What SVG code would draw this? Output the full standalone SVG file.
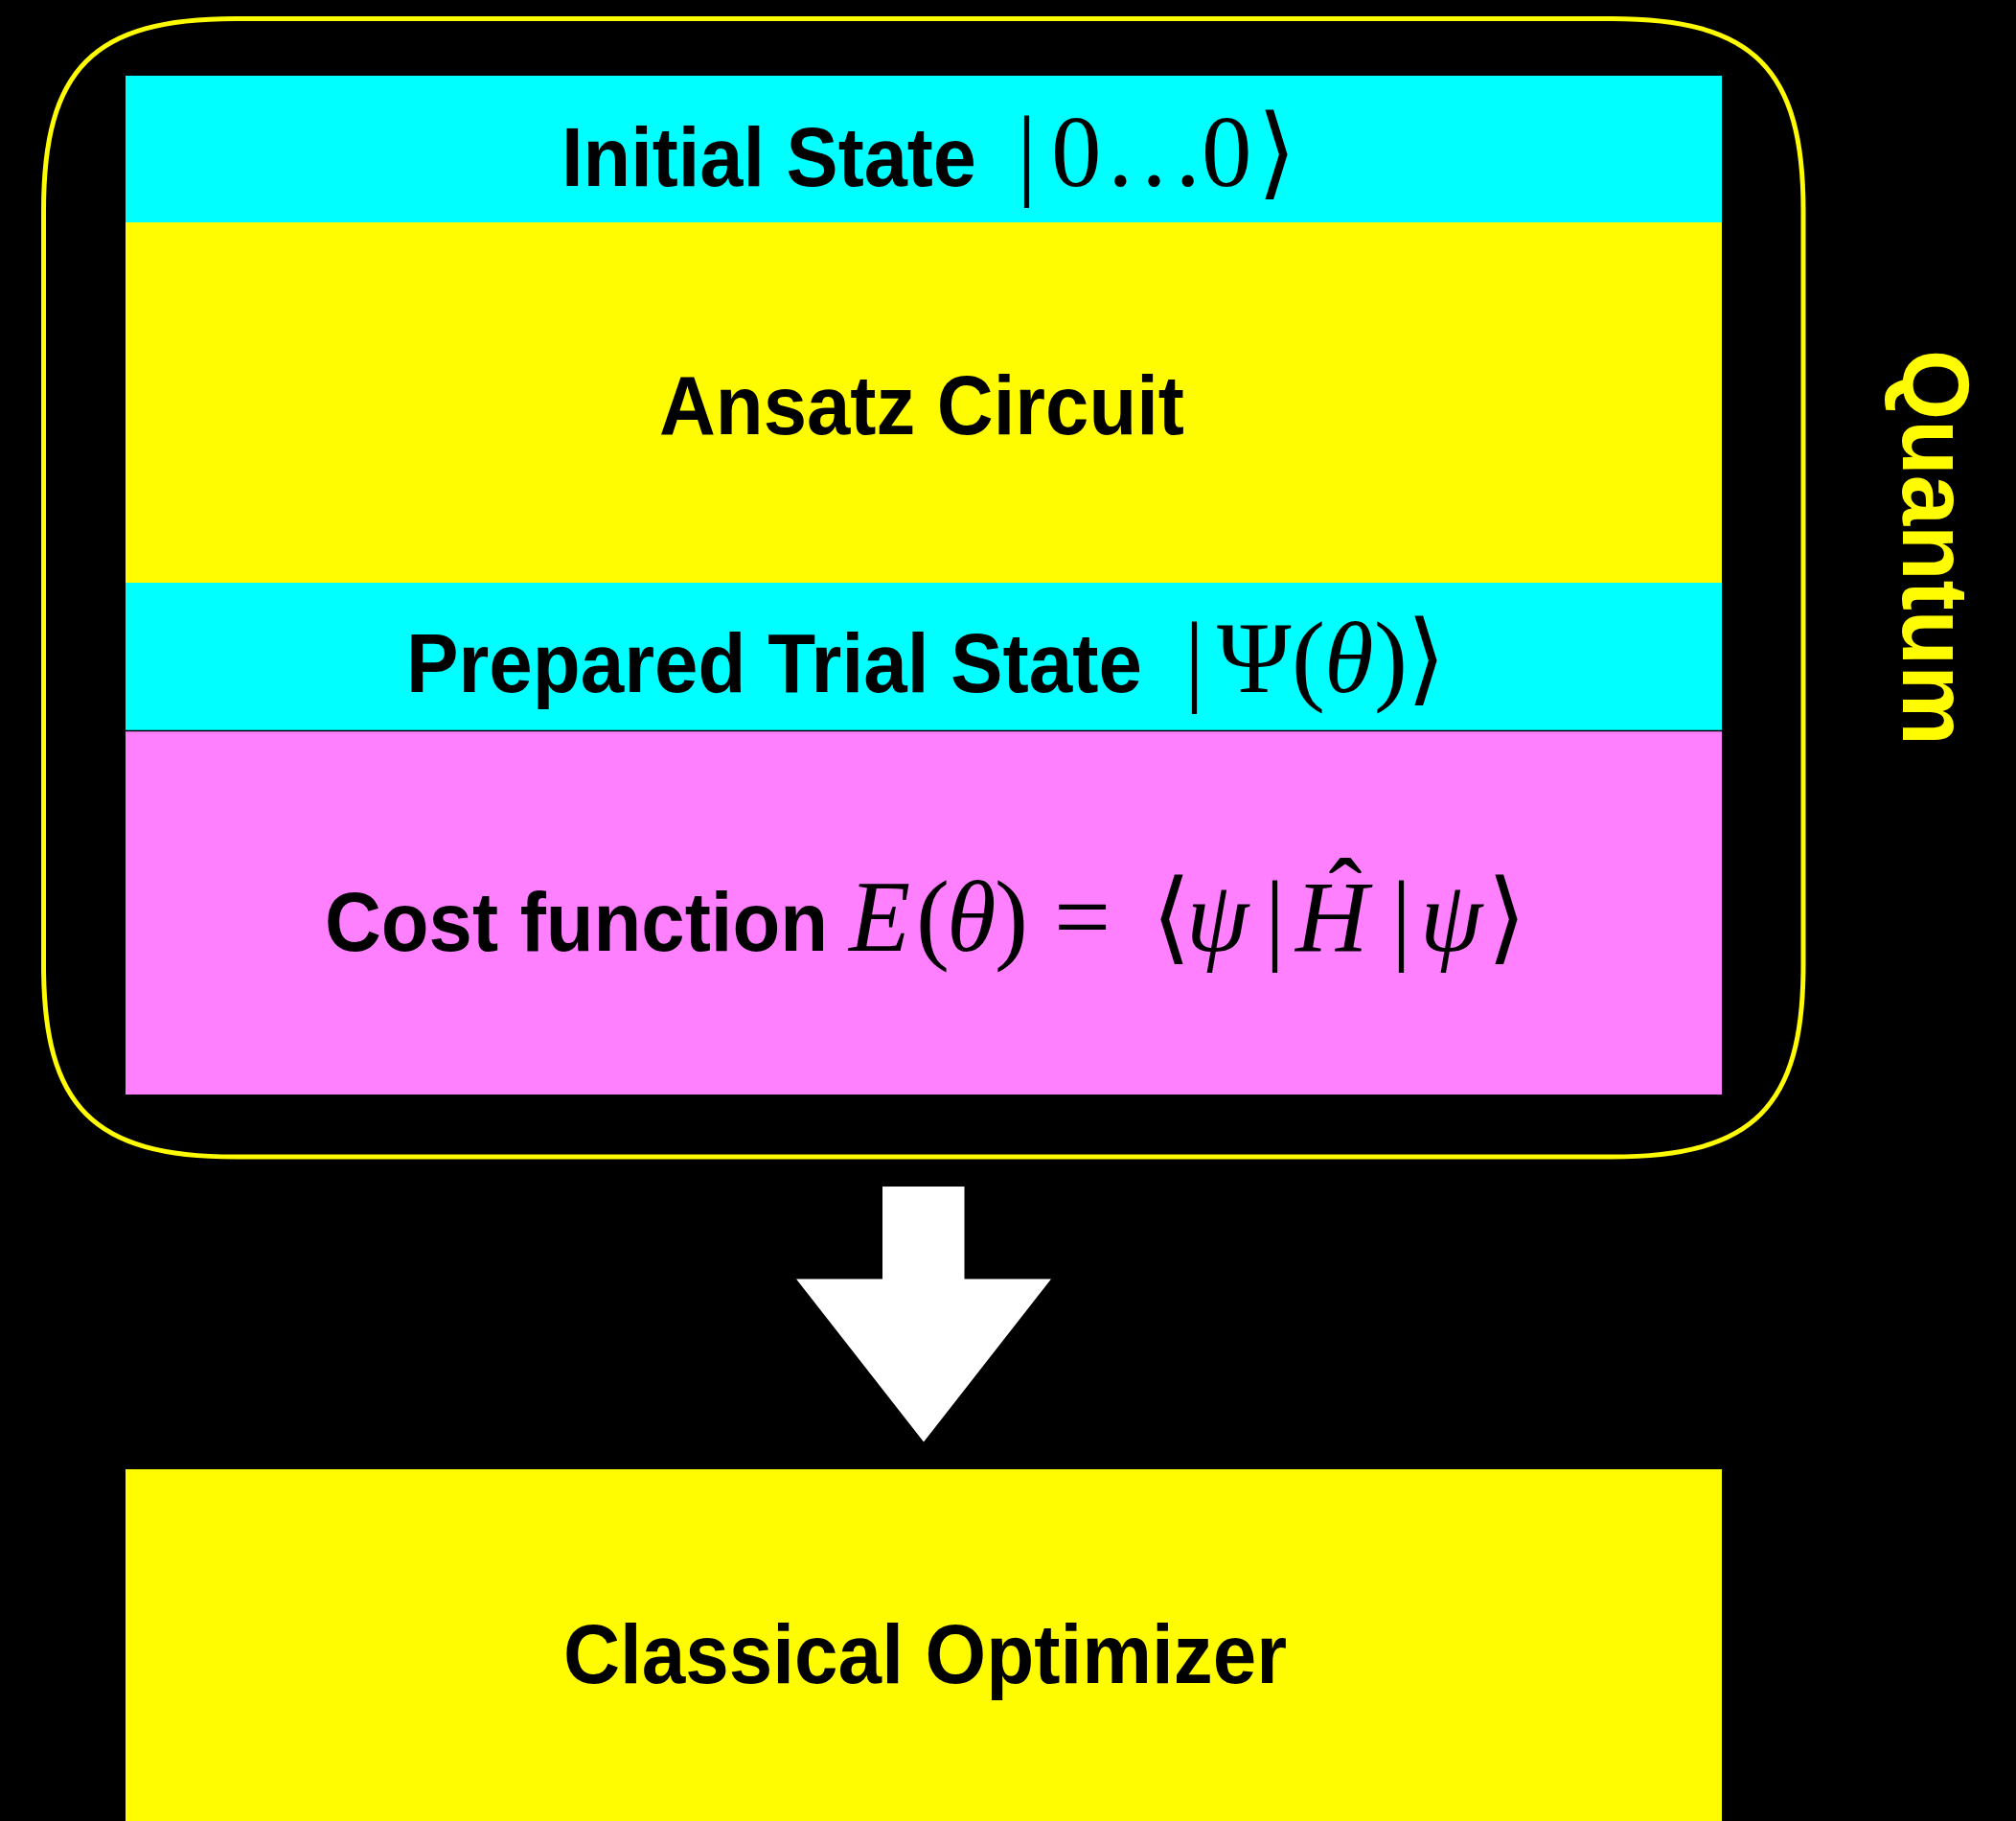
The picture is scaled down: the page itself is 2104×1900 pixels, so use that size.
<svg xmlns="http://www.w3.org/2000/svg" width="2104" height="1900" viewBox="0 0 2104 1900">
  <style>
    .sans { font-family: "Liberation Sans", Arial, sans-serif; font-weight: bold; font-size: 87px; fill: #000; }
    .math { font-family: "Liberation Serif", "DejaVu Serif", serif; font-weight: normal; font-size: 105px; }
    .it { font-style: italic; }
    .cyan { fill: #00FFFF; }
    .yellow { fill: #FFFB00; }
    .magenta { fill: #FF80FF; }
    .frame { fill: none; stroke: #FFFB00; stroke-width: 5; }
    .label { font-family: "Liberation Sans", Arial, sans-serif; font-weight: bold; font-size: 98px; fill: #FFFB00; }
  </style>

  <!-- background -->
  <rect x="0" y="0" width="2104" height="1900" fill="#000"/>

  <!-- quantum section frame -->
  <g id="quantum-frame">
    <path class="frame" d="M 245.5 19.5 H 1682 C 1830 19.5 1882 71.5 1882 219.5 V 1007 C 1882 1155 1830 1207 1682 1207 H 245.5 C 97.5 1207 45.5 1155 45.5 1007 V 219.5 C 45.5 71.5 97.5 19.5 245.5 19.5 Z"/>
    <text class="label" transform="translate(1986 365) rotate(90)" x="0" y="0" textLength="413" lengthAdjust="spacingAndGlyphs">Quantum</text>
  </g>

  <!-- initial state -->
  <g id="initial-state">
    <rect class="cyan" x="131" y="79" width="1666" height="153"/>
    <text class="sans" y="194"><tspan x="586" textLength="433" lengthAdjust="spacingAndGlyphs">Initial State</tspan><tspan class="math" x="1061">|</tspan><tspan class="math" x="1097">0</tspan><tspan class="math" x="1152">…</tspan><tspan class="math" x="1254">0</tspan><tspan class="math" x="1312">⟩</tspan></text>
  </g>

  <!-- ansatz circuit -->
  <g id="ansatz">
    <rect class="yellow" x="131" y="232" width="1666" height="376"/>
    <text class="sans" x="688" y="453" textLength="548" lengthAdjust="spacingAndGlyphs">Ansatz Circuit</text>
  </g>

  <!-- prepared trial state -->
  <g id="trial-state">
    <rect class="cyan" x="131" y="608" width="1666" height="154"/>
    <text class="sans" y="722"><tspan x="424" textLength="768" lengthAdjust="spacingAndGlyphs">Prepared Trial State</tspan><tspan class="math" x="1236">|</tspan><tspan class="math" x="1270">Ψ</tspan><tspan class="math" x="1348">(</tspan><tspan class="math it" x="1382">θ</tspan><tspan class="math" x="1434">)</tspan><tspan class="math" x="1468">⟩</tspan></text>
  </g>

  <!-- cost function -->
  <g id="cost-function">
    <rect class="magenta" x="131" y="762" width="1666" height="380"/>
    <line x1="131" y1="762.5" x2="1797" y2="762.5" stroke="#000" stroke-width="1.5"/>
    <text class="sans" y="992"><tspan x="339" textLength="525" lengthAdjust="spacingAndGlyphs">Cost function</tspan><tspan class="math it" x="886">E</tspan><tspan class="math" x="956">(</tspan><tspan class="math it" x="988">θ</tspan><tspan class="math" x="1038">)</tspan><tspan class="math" x="1100">=</tspan><tspan class="math" x="1202">⟨</tspan><tspan class="math it" x="1238">ψ</tspan><tspan class="math" x="1320">|</tspan><tspan class="math it" x="1352">H</tspan><tspan class="math" x="1452">|</tspan><tspan class="math it" x="1482">ψ</tspan><tspan class="math" x="1552">⟩</tspan><tspan class="math" x="1404" y="969" text-anchor="middle">ˆ</tspan></text>
  </g>

  <!-- classical optimizer -->
  <g id="classical-optimizer">
    <rect class="yellow" x="131" y="1533" width="1666" height="367"/>
    <text class="sans" x="588" y="1756" textLength="755" lengthAdjust="spacingAndGlyphs">Classical Optimizer</text>
  </g>

  <!-- connectors -->
  <g id="connectors">
    <polygon fill="#FFFFFF" points="921,1238 1006.5,1238 1006.5,1334.5 1097,1334.5 964,1504.5 831,1334.5 921,1334.5"/>
  </g>
</svg>
